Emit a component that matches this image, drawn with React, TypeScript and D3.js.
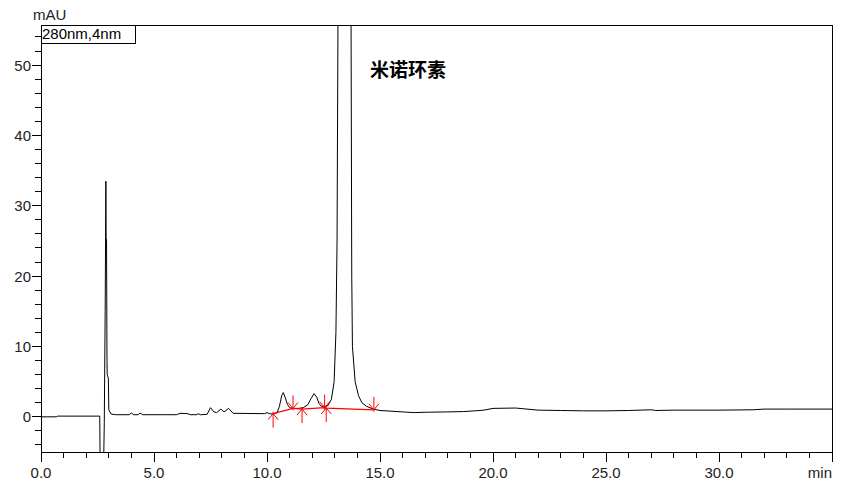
import React, { useEffect } from "react";
import * as d3 from "d3";

// Chromatogram trace (time in min, absorbance in mAU)
const traceTime = [
  0, 0.7, 0.72, 2.6, 2.62, 2.76, 2.8, 2.84, 2.87, 2.88, 2.9, 2.92, 2.93, 2.98, 3.0, 3.1, 3.3,
  3.9, 4.0, 4.1, 4.3, 4.38, 4.5, 5.5, 6.0, 6.15, 6.5, 6.6, 6.9, 6.95, 7.05, 7.35,
  7.5, 7.65, 7.77, 7.96, 8.1, 8.3, 8.5, 9.9, 10.0, 10.1, 10.3,
  10.45, 10.55, 10.65, 10.72, 10.8, 10.9, 11.0, 11.15, 11.4, 11.6, 11.8, 11.95, 12.08, 12.2, 12.3, 12.4, 12.55,
  12.7, 12.85, 12.97, 13.05, 13.1, 13.14, 13.43, 13.72, 13.75, 13.78, 13.9, 14.05, 14.2, 14.4, 14.7,
  15.0, 16.0, 16.5, 17.0, 18.0, 18.7, 19.2, 19.6, 20.0, 21.0, 21.5, 22.0, 23.0, 24.0, 25.0, 26.0,
  27.0, 27.2, 28.0, 30.0, 31.5, 32.0, 33.0, 35.0,
];
const traceValue = [
  0, 0, 0.1, 0.1, -9, -9, -1, 15, 33.5, 25.5, 25, 8, 6, 5.5, 1.0, 0.4, 0.3,
  0.3, 0.55, 0.3, 0.3, 0.55, 0.3, 0.3, 0.3, 0.5, 0.45, 0.3, 0.3, 0.45, 0.3, 0.35,
  1.3, 0.7, 0.6, 1.1, 0.7, 1.2, 0.5, 0.45, 0.6, 0.45, 0.4,
  0.6, 1.5, 3.0, 3.45, 2.8, 1.8, 1.3, 1.2, 1.2, 1.3, 1.7, 2.6, 3.3, 2.8, 1.9, 1.5, 1.5,
  1.6, 2.5, 5, 12, 25, 56, 420, 56, 20, 10, 5, 3, 2, 1.5, 1.1,
  0.9, 0.7, 0.6, 0.65, 0.7, 0.75, 0.85, 0.95, 1.2, 1.25, 1.1, 0.95, 0.9, 0.85, 0.85, 0.9,
  1.0, 0.9, 0.95, 0.95, 1.0, 1.1, 1.1, 1.1,
];

// Integration baseline (red)
const baseTime = [10.27, 11.15, 11.55, 12.55, 12.62, 14.73];
const baseValue = [0.45, 1.2, 1.1, 1.3, 1.25, 1.0];
const startMarkTime = [10.27, 11.55, 12.62];
const startMarkValue = [0.45, 1.1, 1.25];
const endMarkTime = [11.15, 12.55, 14.73];
const endMarkValue = [1.2, 1.3, 1.0];

const xMajorTicks = [0, 5, 10, 15, 20, 25, 30];
const xTickLabels = ["0.0", "5.0", "10.0", "15.0", "20.0", "25.0", "30.0"];
const yMajorTicks = [0, 10, 20, 30, 40, 50];

const W = 853;
const H = 487;
const L = 41, R = 832, T = 25, B = 452;

export default function App() {
  useEffect(() => {
    document.body.style.margin = "0";
  }, []);

  const x = d3.scaleLinear().domain([0, 35]).range([L, R]);
  const y = d3.scaleLinear().domain([-5, 55.7]).range([B, T]);

  const line = d3
    .line<number>()
    .x((_, i) => x(traceTime[i]))
    .y((_, i) => y(traceValue[i]));
  const traceD = line(traceValue) || "";

  const baseLine = d3
    .line<number>()
    .x((_, i) => x(baseTime[i]))
    .y((_, i) => y(baseValue[i]));
  const baseD = baseLine(baseValue) || "";

  const xMinor = d3.range(0, 36, 1).filter((v) => v % 5 !== 0);
  const yMinor = d3.range(-4, 56, 2).filter((v) => v % 10 !== 0);

  const font = "'Liberation Sans', Arial, sans-serif";
  const red = "#ff0000";

  return (
    <svg width={W} height={H} style={{ display: "block", background: "#fff" }}>
      <defs>
        <clipPath id="plotClip">
          <rect x={L} y={T} width={R - L} height={B - T} />
        </clipPath>
      </defs>
      {/* frame */}
      <rect x={L} y={T} width={R - L} height={B - T} fill="none" stroke="#000" strokeWidth={1} shapeRendering="crispEdges" />

      {/* x ticks */}
      {xMinor.map((v) => (
        <line key={"xm" + v} x1={x(v)} x2={x(v)} y1={B} y2={B + 6} stroke="#000" shapeRendering="crispEdges" />
      ))}
      {xMajorTicks.concat([35]).map((v) => (
        <line key={"xM" + v} x1={x(v)} x2={x(v)} y1={B} y2={B + 10} stroke="#000" shapeRendering="crispEdges" />
      ))}
      {xMajorTicks.map((v, i) => (
        <text key={"xl" + v} x={x(v)} y={478} textAnchor="middle" fontFamily={font} fontSize={15} fill="#222">
          {xTickLabels[i]}
        </text>
      ))}
      <text x={R} y={478} textAnchor="end" fontFamily={font} fontSize={15} fill="#222">min</text>

      {/* y ticks */}
      {yMinor.map((v) => (
        <line key={"ym" + v} x1={L - 6} x2={L} y1={y(v)} y2={y(v)} stroke="#000" shapeRendering="crispEdges" />
      ))}
      {yMajorTicks.map((v) => (
        <line key={"yM" + v} x1={L - 9} x2={L} y1={y(v)} y2={y(v)} stroke="#000" shapeRendering="crispEdges" />
      ))}
      {yMajorTicks.map((v) => (
        <text key={"yl" + v} x={31} y={y(v) + 5.5} textAnchor="end" fontFamily={font} fontSize={15} fill="#222">
          {v}
        </text>
      ))}
      <text x={33} y={20} fontFamily={font} fontSize={15} fill="#222">mAU</text>

      {/* trace */}
      <g clipPath="url(#plotClip)">
        <path d={traceD} fill="none" stroke="#000" strokeWidth={1} strokeLinejoin="round" />
        <path d={baseD} fill="none" stroke={red} strokeWidth={1.3} />
        {startMarkTime.map((t, i) => {
          const px = x(t), py = y(startMarkValue[i]);
          return (
            <g key={"sm" + i} stroke={red} strokeWidth={1}>
              <line x1={px} x2={px} y1={py - 2} y2={py + 14} />
              <line x1={px} x2={px - 5} y1={py} y2={py + 6} />
              <line x1={px} x2={px + 5} y1={py} y2={py + 6} />
            </g>
          );
        })}
        {endMarkTime.map((t, i) => {
          const px = x(t), py = y(endMarkValue[i]);
          return (
            <g key={"em" + i} stroke={red} strokeWidth={1}>
              <line x1={px} x2={px} y1={py + 2} y2={py - 13} />
              <line x1={px} x2={px - 5} y1={py} y2={py - 6} />
              <line x1={px} x2={px + 5} y1={py} y2={py - 6} />
            </g>
          );
        })}
      </g>

      {/* legend box */}
      <rect x={L} y={T} width={94} height={18} fill="#fff" stroke="#000" strokeWidth={1} shapeRendering="crispEdges" />
      <text x={L + 1} y={T + 14} fontFamily={font} fontSize={15} fill="#000">280nm,4nm</text>

      {/* peak label */}
      <text x={370} y={77} fontFamily="'Noto Sans CJK SC', sans-serif" fontSize={19} fontWeight="bold" fill="#000">
        米诺环素
      </text>
    </svg>
  );
}
